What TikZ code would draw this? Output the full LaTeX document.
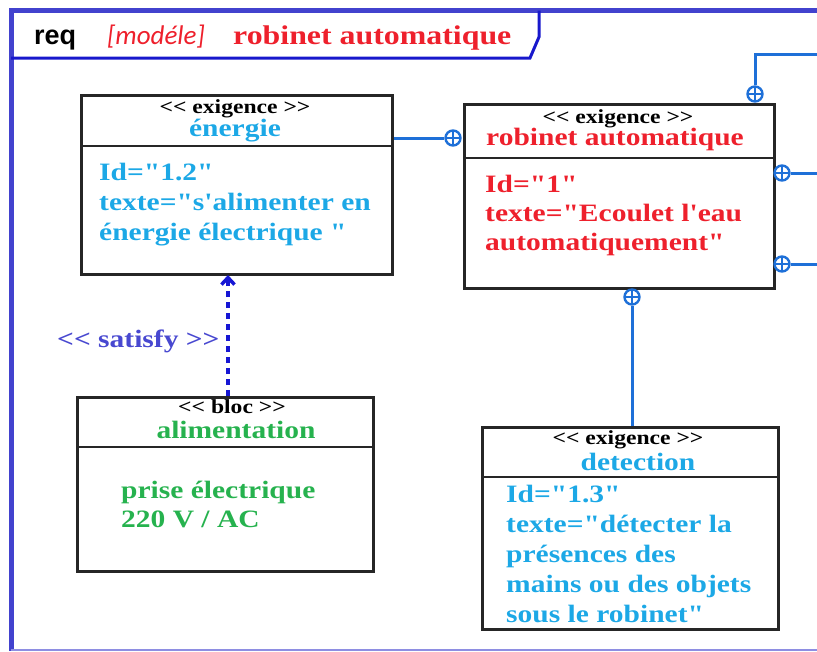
\documentclass[tikz,border=0pt]{standalone}
\usepackage{fontspec}
\newfontfamily\serifb{Liberation Serif}[FakeStretch=1.18]
\newfontfamily\reqfont{Liberation Sans}
\newfontfamily\modfont{Carlito}
\usetikzlibrary{arrows.meta}
\definecolor{cyantxt}{RGB}{28,168,230}
\definecolor{redtxt}{RGB}{238,32,44}
\definecolor{greentxt}{RGB}{38,178,78}
\definecolor{sattxt}{RGB}{72,72,208}
\definecolor{cblue}{RGB}{30,112,216}
\definecolor{dblue}{RGB}{22,22,212}
\definecolor{frameblue}{RGB}{66,66,206}
\definecolor{titleblue}{RGB}{24,24,204}
\newcommand\bodyf{\serifb\fontsize{25}{30}\selectfont\bfseries}
\newcommand\hdrf{\serifb\fontsize{20}{22}\selectfont\bfseries}
\newcommand\stl{<\kern0pt<}
\newcommand\stg{>\kern0pt>}
\begin{document}
\begin{tikzpicture}[x=1pt,y=-1pt,
 box/.style={draw=black!85, line width=2.5pt, rectangle, anchor=north west, inner sep=0pt},
 sepline/.style={draw=black!85, line width=2.5pt},
 conn/.style={draw=cblue, line width=3pt},
 plus/.style={circle, draw=cblue, line width=2.4pt, minimum size=15pt, inner sep=0pt,
   path picture={\draw[cblue,line width=2pt] (path picture bounding box.north) -- (path picture bounding box.south) (path picture bounding box.west) -- (path picture bounding box.east);}},
 tl/.style={anchor=base west, inner sep=0pt, font=\bodyf},
 tc/.style={anchor=base, inner sep=0pt, font=\bodyf},
 stereo/.style={anchor=base, inner sep=0pt, font=\hdrf, text=black},
]
\useasboundingbox (0,0) rectangle (817,651);
% frame
\draw[frameblue, line width=5pt] (11,651) -- (11,10.5) -- (817,10.5);
\draw[frameblue!60, line width=1.5pt] (11,650) -- (817,650);
% title tab
\draw[titleblue, line width=3pt] (11,58) -- (530,58) -- (539,37) -- (539,10.5);
\node[anchor=base west, inner sep=0pt, font=\reqfont\bfseries\fontsize{27}{30}\selectfont] (req) at (34,44) {req};
\node[anchor=base west, inner sep=0pt, font=\modfont\itshape\fontsize{27}{30}\selectfont, text=redtxt] (mod) at (107,44) {[modéle]};
\node[anchor=base west, inner sep=0pt, font=\serifb\fontsize{27}{30}\selectfont\bfseries, text=redtxt] (ttl) at (233,44) {robinet automatique};

% energie
\node[box, minimum width=311pt, minimum height=179pt] (en) at (80,94) {};
\draw[sepline] (en.west |- 0,146) -- (en.east |- 0,146);
\node[stereo] (en-s) at (235,113) {\stl{} exigence \stg};
\node[tc, text=cyantxt] (en-n) at (235,136) {énergie};
\node[tl, text=cyantxt] (en-1) at (99,180) {Id="1.2"};
\node[tl, text=cyantxt] (en-2) at (99,210) {texte="s'alimenter en};
\node[tl, text=cyantxt] (en-3) at (99,240) {énergie électrique "};

% robinet
\node[box, minimum width=310pt, minimum height=184pt] (rb) at (463,103) {};
\draw[sepline] (rb.west |- 0,158) -- (rb.east |- 0,158);
\node[stereo] (rb-s) at (618,123) {\stl{} exigence \stg};
\node[tc, text=redtxt] (rb-n) at (615,145) {robinet automatique};
\node[tl, text=redtxt] (rb-1) at (485,192) {Id="1"};
\node[tl, text=redtxt] (rb-2) at (485,221) {texte="Ecoulet l'eau};
\node[tl, text=redtxt] (rb-3) at (485,250) {automatiquement"};

% alimentation
\node[box, minimum width=296pt, minimum height=174pt] (al) at (76,396) {};
\draw[sepline] (al.west |- 0,447) -- (al.east |- 0,447);
\node[stereo] (al-s) at (232,413) {\stl{} bloc \stg};
\node[tc, text=greentxt] (al-n) at (236,438) {alimentation};
\node[tl, text=greentxt] (al-1) at (121,498) {prise électrique};
\node[tl, text=greentxt] (al-2) at (121,527) {220 V / AC};

% detection
\node[box, minimum width=296pt, minimum height=202pt] (dt) at (481,426) {};
\draw[sepline] (dt.west |- 0,477) -- (dt.east |- 0,477);
\node[stereo] (dt-s) at (628,444) {\stl{} exigence \stg};
\node[tc, text=cyantxt] (dt-n) at (638,470) {detection};
\node[tl, text=cyantxt] (dt-1) at (506,502) {Id="1.3"};
\node[tl, text=cyantxt] (dt-2) at (506,532) {texte="détecter la};
\node[tl, text=cyantxt] (dt-3) at (506,562) {présences des};
\node[tl, text=cyantxt] (dt-4) at (506,592) {mains ou des objets};
\node[tl, text=cyantxt] (dt-5) at (506,622) {sous le robinet"};

% containment connectors
\node[plus] (p-l) at (453,138) {};
\node[plus] (p-t) at (755,94) {};
\node[plus] (p-r1) at (782,173) {};
\node[plus] (p-r2) at (782,264) {};
\node[plus] (p-b) at (632,297) {};
\coordinate (out-t) at (817,54);
\coordinate (out-r1) at (817,173);
\coordinate (out-r2) at (817,264);
\draw[conn] (en.east |- p-l) -- (p-l);
\draw[conn] (p-t) |- (out-t);
\draw[conn] (p-r1) -- (out-r1);
\draw[conn] (p-r2) -- (out-r2);
\draw[conn] (p-b) -- (p-b |- dt.north);

% satisfy
\coordinate (sat-a) at (228,396);
\coordinate (sat-b) at (228,275);
\draw[dblue, line width=3.5pt, dash pattern=on 6pt off 5pt, -{Straight Barb[length=7pt,width=13pt]}] (sat-a) -- (sat-b);
\node[anchor=base west, inner sep=0pt, font=\bodyf, text=sattxt] (sat) at (57,347) {\stl{} satisfy \stg};
\end{tikzpicture}
\end{document}
